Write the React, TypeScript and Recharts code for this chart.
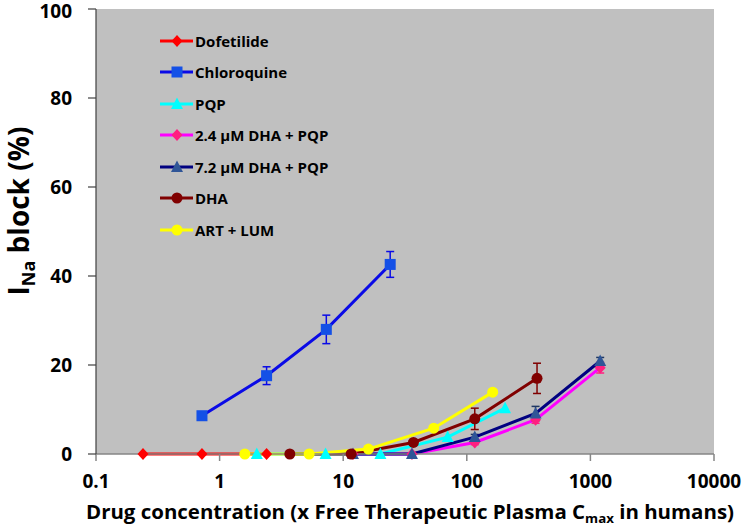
import React from 'react';
import { ComposedChart, Line, XAxis, YAxis, CartesianGrid, ErrorBar, Legend } from 'recharts';

const xTicks = [0.1, 1, 10, 100, 1000, 10000];
const yTicks = [0, 20, 40, 60, 80, 100];

const dofetilideX = [0.24, 0.72, 2.4];
const dofetilideY = [0, 0, 0];

const chloroquineX = [0.72, 2.4, 7.3, 24];
const chloroquineY = [8.6, 17.6, 28, 42.6];
const chloroquineErr = [null, 2.0, 3.2, 2.9];

const pqpX = [2.0, 7.2, 20, 70, 204];
const pqpY = [0, 0, 0, 3.8, 10.3];

const dha24X = [12, 36, 116, 360, 1200];
const dha24Y = [0, 0, 2.6, 7.7, 19.4];
const dha24Err = [null, null, 0.5, 0.8, 1.2];

const dha72X = [12, 36, 116, 360, 1200];
const dha72Y = [0, 0, 3.8, 9.1, 20.9];
const dha72Err = [null, null, 0.6, 1.6, 0.8];

const dhaX = [3.7, 11.6, 37, 116, 370];
const dhaY = [0, 0, 2.6, 7.9, 17];
const dhaErr = [null, null, 0.5, 2.4, 3.4];

const artLumX = [1.6, 5.3, 16, 54, 162];
const artLumY = [0, 0, 1.1, 5.8, 13.9];

const FONT = '"Open Sans", sans-serif';

type Shape = 'diamond' | 'square' | 'triangle' | 'circle';

interface Series {
  name: string;
  xs: number[];
  ys: number[];
  errs?: (number | null)[];
  line: string;
  marker: string;
  errColor?: string;
  shape: Shape;
}

const series: Series[] = [
  { name: 'Dofetilide', xs: dofetilideX, ys: dofetilideY, line: '#FF0000', marker: '#FF0000', shape: 'diamond' },
  { name: 'Chloroquine', xs: chloroquineX, ys: chloroquineY, errs: chloroquineErr, line: '#0A0AE6', marker: '#1450E6', errColor: '#0A0AE6', shape: 'square' },
  { name: 'PQP', xs: pqpX, ys: pqpY, line: '#00FFFF', marker: '#00FFFF', shape: 'triangle' },
  { name: '2.4 \u00b5M DHA + PQP', xs: dha24X, ys: dha24Y, errs: dha24Err, line: '#FF00FF', marker: '#FF2080', errColor: '#FF2080', shape: 'diamond' },
  { name: '7.2 \u00b5M DHA + PQP', xs: dha72X, ys: dha72Y, errs: dha72Err, line: '#000080', marker: '#2F5597', errColor: '#1F3864', shape: 'triangle' },
  { name: 'DHA', xs: dhaX, ys: dhaY, errs: dhaErr, line: '#800000', marker: '#800000', errColor: '#800000', shape: 'circle' },
  { name: 'ART + LUM', xs: artLumX, ys: artLumY, line: '#FFFF00', marker: '#FFFF00', shape: 'circle' },
];

function Marker({ shape, cx, cy, fill }: { shape: Shape; cx: number; cy: number; fill: string }) {
  if (cx == null || cy == null || isNaN(cx) || isNaN(cy)) return null;
  switch (shape) {
    case 'diamond':
      return <polygon points={`${cx},${cy - 6} ${cx + 5.5},${cy} ${cx},${cy + 6} ${cx - 5.5},${cy}`} fill={fill} />;
    case 'square':
      return <rect x={cx - 5.5} y={cy - 5.5} width={11} height={11} fill={fill} />;
    case 'triangle':
      return <polygon points={`${cx},${cy - 6.5} ${cx + 6},${cy + 5} ${cx - 6},${cy + 5}`} fill={fill} />;
    case 'circle':
    default:
      return <circle cx={cx} cy={cy} r={5.5} fill={fill} />;
  }
}

const LegendBox = () => (
  <div style={{ fontFamily: FONT, fontWeight: 700, fontSize: 15, color: '#000' }}>
    {series.map((s) => (
      <div key={s.name} style={{ height: 31.5, display: 'flex', alignItems: 'center', whiteSpace: 'nowrap' }}>
        <svg width={35} height={20} style={{ display: 'block' }}>
          <line x1={0} y1={10} x2={33} y2={10} stroke={s.line} strokeWidth={3} />
          <Marker shape={s.shape} cx={17} cy={10} fill={s.marker} />
        </svg>
        <span style={{ lineHeight: '20px' }}>{s.name}</span>
      </div>
    ))}
  </div>
);

const YTitle = () => (
  <text
    transform="translate(29,211) rotate(-90)"
    textAnchor="middle"
    fontFamily={FONT}
    fontWeight={700}
    fontSize={28}
    fill="#000"
  >
    <tspan>I</tspan>
    <tspan fontSize={18} dy={6}>Na</tspan>
    <tspan dy={-6}> block (%)</tspan>
  </text>
);

const XTitle = () => (
  <text
    x={86}
    y={519}
    fontFamily={FONT}
    fontWeight={700}
    fontSize={20}
    fill="#000"
    textLength={648}
    lengthAdjust="spacingAndGlyphs"
  >
    <tspan>Drug concentration (x Free Therapeutic Plasma C</tspan>
    <tspan fontSize={13} dy={4}>max</tspan>
    <tspan dy={-4}>{' '}in humans)</tspan>
  </text>
);

export default function App() {
  return (
    <div style={{ position: 'fixed', left: 0, top: 0, width: 742, height: 529, background: '#fff' }}>
      <ComposedChart width={742} height={529} margin={{ top: 9, right: 28, bottom: 0, left: 0 }}>
        <CartesianGrid fill="#C0C0C0" stroke="transparent" horizontal={false} vertical={false} />
        <XAxis
          dataKey="x"
          type="number"
          scale="log"
          domain={[0.1, 10000]}
          allowDataOverflow
          ticks={xTicks}
          tickFormatter={(v: number) => String(v)}
          height={75}
          tickSize={7}
          tickMargin={14}
          axisLine={{ stroke: '#868686', strokeWidth: 1.5 }}
          tickLine={{ stroke: '#868686', strokeWidth: 1.5 }}
          tick={{ fontFamily: FONT, fontWeight: 700, fontSize: 19, fill: '#000' }}
          label={<XTitle />}
        />
        <YAxis
          type="number"
          domain={[0, 100]}
          ticks={yTicks}
          width={96}
          tickSize={8}
          tickMargin={16}
          axisLine={{ stroke: '#404040', strokeWidth: 1.2 }}
          tickLine={{ stroke: '#404040', strokeWidth: 1.2 }}
          tick={{ fontFamily: FONT, fontWeight: 700, fontSize: 19, fill: '#000' }}
          label={<YTitle />}
        />
        <Legend
          layout="vertical"
          align="center"
          verticalAlign="middle"
          wrapperStyle={{ left: 160, top: 25, width: 230, height: 221 }}
          content={() => <LegendBox />}
        />
        {series.map((s) => {
          const data = s.xs.map((x, i) => ({ x, y: s.ys[i], err: s.errs ? s.errs[i] : null }));
          return (
            <Line
              key={s.name}
              name={s.name}
              data={data}
              dataKey="y"
              type="linear"
              stroke={s.line}
              strokeWidth={3}
              isAnimationActive={false}
              activeDot={false}
              dot={(p: any) => <Marker key={`${s.name}-${p.index}`} shape={s.shape} cx={p.cx} cy={p.cy} fill={s.marker} />}
            >
              {s.errs && (
                <ErrorBar dataKey="err" direction="y" width={4} stroke={s.errColor} strokeWidth={1.5} isAnimationActive={false} />
              )}
            </Line>
          );
        })}
      </ComposedChart>
    </div>
  );
}
